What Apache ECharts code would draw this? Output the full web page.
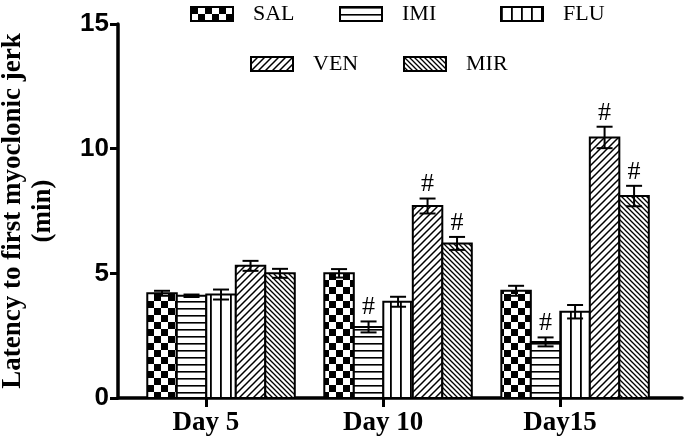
<!DOCTYPE html>
<html>
<head>
<meta charset="utf-8">
<script src="https://cdn.jsdelivr.net/npm/echarts@6/dist/echarts.min.js"></script>
<style>
  html, body { margin: 0; padding: 0; background: #fff; }
  #chart { width: 685px; height: 442px; }
</style>
</head>
<body>
<div id="chart"></div>
<script>
// data
var days = ['Day 5', 'Day 10', 'Day15'];
var groups = ['SAL', 'IMI', 'FLU', 'VEN', 'MIR'];
var sal = [4.2, 5.0, 4.3];
var imi = [4.1, 2.85, 2.25];
var flu = [4.15, 3.86, 3.46];
var ven = [5.3, 7.7, 10.45];
var mir = [5.0, 6.2, 8.1];
var salErr = [0.1, 0.17, 0.2];
var imiErr = [0.05, 0.22, 0.18];
var fluErr = [0.2, 0.2, 0.27];
var venErr = [0.2, 0.3, 0.43];
var mirErr = [0.18, 0.26, 0.41];
// '#' marks
var salSig = [0, 0, 0];
var imiSig = [0, 1, 1];
var fluSig = [0, 0, 0];
var venSig = [0, 1, 1];
var mirSig = [0, 1, 1];
var yTicks = [0, 5, 10, 15];

var means = [sal, imi, flu, ven, mir];
var errs = [salErr, imiErr, fluErr, venErr, mirErr];
var sigs = [salSig, imiSig, fluSig, venSig, mirSig];

var barW = 29.5;
var tickShift = 0.085; // ticks sit a bit left of group centre

// fill patterns
function makePattern(kind) {
  var c = document.createElement('canvas');
  var s = {checker: 14, hline: 7, vline: 10, fwd: 7, back: 5}[kind];
  c.width = s; c.height = s;
  var g = c.getContext('2d');
  g.fillStyle = '#fff';
  g.fillRect(0, 0, s, s);
  g.fillStyle = '#000';
  g.strokeStyle = '#000';
  if (kind == 'checker') {
    g.fillRect(0, 0, 7, 7);
    g.fillRect(7, 7, 7, 7);
  } else if (kind == 'hline') {
    g.fillRect(0, 0, s, 1.6);
  } else if (kind == 'vline') {
    g.fillRect(0, 0, 1.8, s);
  } else if (kind == 'fwd') {
    g.lineWidth = 1.5;
    g.beginPath();
    g.moveTo(0, s); g.lineTo(s, 0);
    g.moveTo(-2, 2); g.lineTo(2, -2);
    g.moveTo(s - 2, s + 2); g.lineTo(s + 2, s - 2);
    g.stroke();
  } else {
    g.lineWidth = 1.3;
    g.beginPath();
    g.moveTo(0, 0); g.lineTo(s, s);
    g.moveTo(-2, s - 2); g.lineTo(2, s + 2);
    g.moveTo(s - 2, -2); g.lineTo(s + 2, 2);
    g.stroke();
  }
  return {image: c, repeat: 'repeat'};
}
var patterns = ['checker', 'hline', 'vline', 'fwd', 'back'].map(makePattern);

// bar + error bar + '#' for each group, drawn on the grid's scales
var series = groups.map(function (name, k) {
  return {
    name: name,
    type: 'custom',
    itemStyle: {color: patterns[k], borderColor: '#000', borderWidth: 2},
    data: means[k].map(function (v, i) { return [i, v, errs[k][i], sigs[k][i]]; }),
    encode: {x: 0, y: 1},
    renderItem: function (params, api) {
      var i = api.value(0), m = api.value(1), e = api.value(2);
      var cx = api.coord([i, m])[0] + (k - 2) * barW;
      var yTop = api.coord([i, m])[1];
      var y0 = api.coord([i, 0])[1];
      var top = api.coord([i, m + e])[1];
      var bot = api.coord([i, m - e])[1];
      var st = {stroke: '#000', lineWidth: 2};
      var kids = [
        {type: 'rect', shape: {x: cx - barW / 2, y: yTop, width: barW, height: y0 - yTop},
          style: {fill: patterns[k], stroke: '#000', lineWidth: 2}},
        {type: 'line', shape: {x1: cx, y1: top, x2: cx, y2: bot}, style: st},
        {type: 'line', shape: {x1: cx - 8, y1: top, x2: cx + 8, y2: top}, style: st},
        {type: 'line', shape: {x1: cx - 8, y1: bot, x2: cx + 8, y2: bot}, style: st}
      ];
      if (api.value(3)) {
        kids.push({type: 'text', style: {
          text: '#', x: cx, y: top - 1, align: 'center', verticalAlign: 'bottom',
          font: '26px "Liberation Serif"', fill: '#000'
        }});
      }
      return {type: 'group', children: kids};
    }
  };
});

var legendPos = [[190, 3], [339, 3], [500, 3], [250, 53], [403, 53]];
var legends = groups.map(function (name, k) {
  return {
    data: [name],
    left: legendPos[k][0], top: legendPos[k][1],
    padding: 0,
    icon: 'rect',
    itemWidth: 42, itemHeight: 14,
    selectedMode: false,
    itemStyle: {color: patterns[k], borderColor: '#000', borderWidth: 2},
    textStyle: {fontFamily: 'Liberation Serif', fontSize: 22, color: '#000', padding: [0, 0, 0, 15]}
  };
});

var chart = echarts.init(document.getElementById('chart'));
chart.setOption({
  animation: false,
  backgroundColor: '#fff',
  legend: legends,
  grid: {left: 118, right: 3, top: 24, bottom: 44, containLabel: false, outerBoundsMode: 'none'},
  xAxis: {
    type: 'value',
    min: -0.582, max: 2.604,
    splitLine: {show: false},
    axisLine: {lineStyle: {color: '#000', width: 3.5}},
    axisTick: {
      length: 9, lineStyle: {color: '#000', width: 3},
      customValues: days.map(function (d, i) { return i - tickShift; })
    },
    axisLabel: {
      margin: 12,
      customValues: days.map(function (d, i) { return i - tickShift; }),
      formatter: function (v) { return days[Math.round(v + tickShift)]; },
      fontFamily: 'Liberation Serif', fontWeight: 'bold', fontSize: 27, color: '#000'
    }
  },
  yAxis: {
    type: 'value',
    min: yTicks[0], max: yTicks[yTicks.length - 1], interval: 5,
    splitLine: {show: false},
    axisLine: {show: true, onZero: false, lineStyle: {color: '#000', width: 3.5}},
    axisTick: {show: true, length: 8, lineStyle: {color: '#000', width: 3}},
    axisLabel: {
      margin: 9,
      fontFamily: 'Liberation Sans', fontWeight: 'bold', fontSize: 26, color: '#000'
    },
    name: 'Latency to first myoclonic jerk\n(min)',
    nameLocation: 'middle',
    nameRotate: 90,
    nameGap: 60,
    nameTextStyle: {
      fontFamily: 'Liberation Serif', fontWeight: 'bold', fontSize: 27,
      lineHeight: 30, color: '#000'
    }
  },
  series: series
});
</script>
</body>
</html>
